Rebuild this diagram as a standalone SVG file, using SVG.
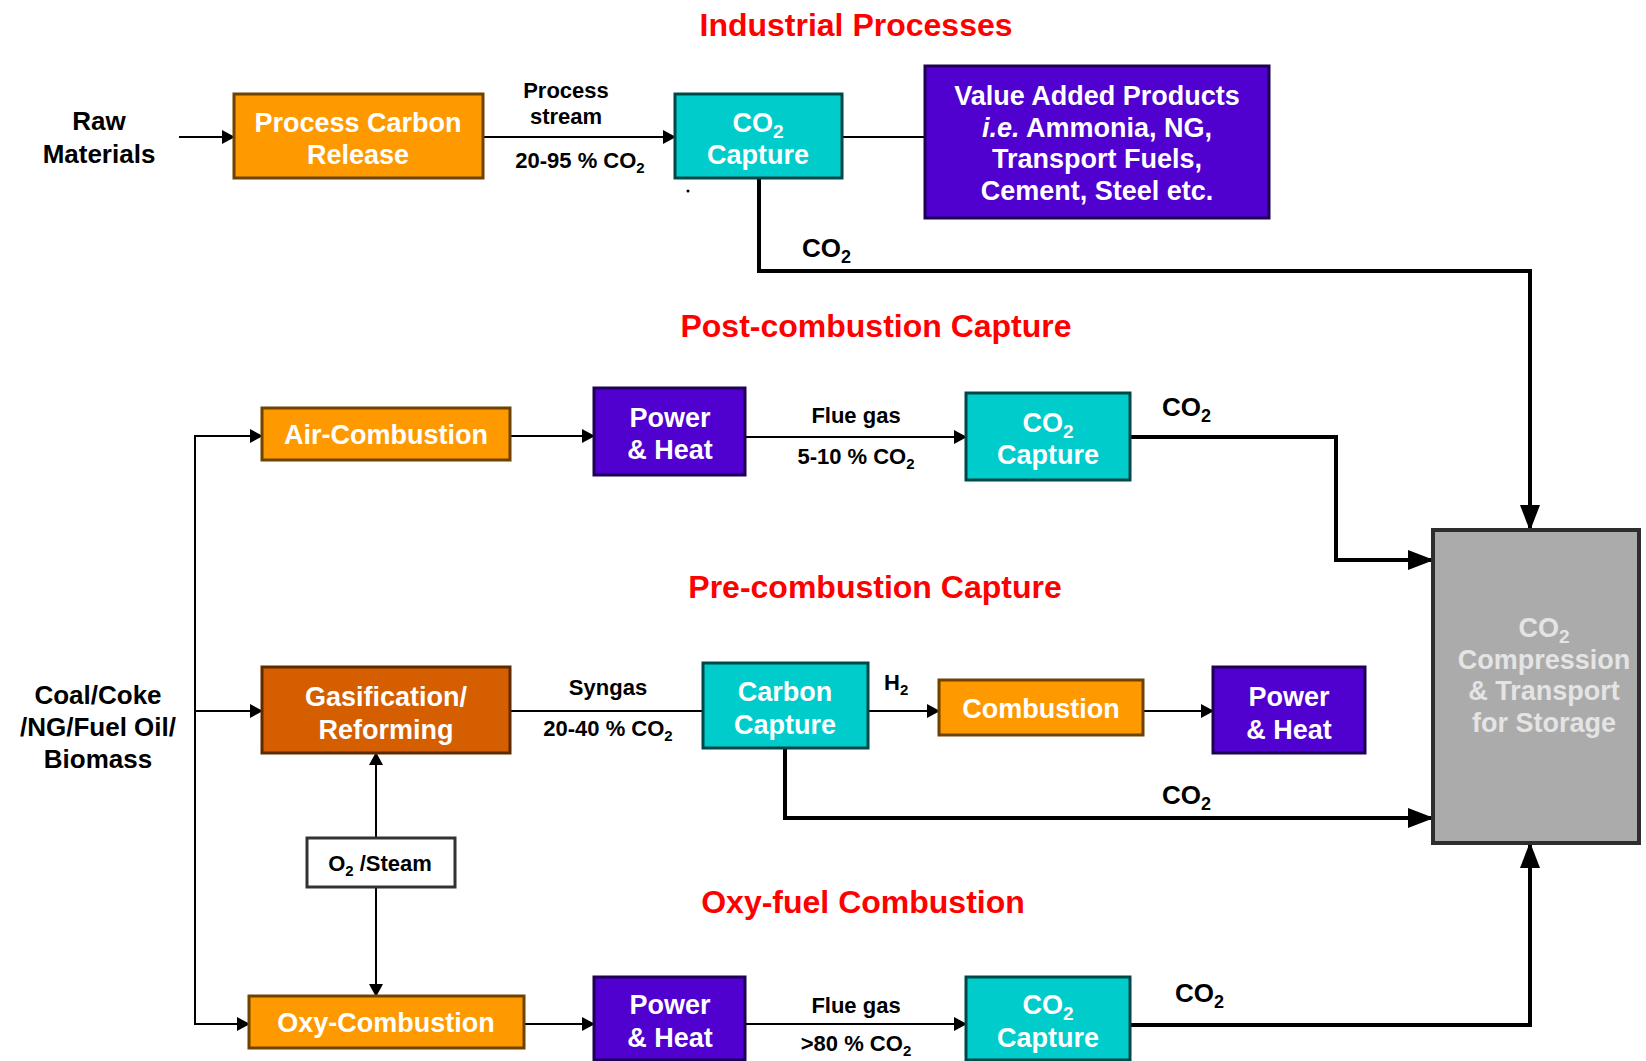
<svg xmlns="http://www.w3.org/2000/svg" width="1646" height="1061" viewBox="0 0 1646 1061">
<style>
text{font-family:"Liberation Sans",Arial,sans-serif;font-weight:bold;text-anchor:middle}
.title{font-size:32px;fill:#FF0000}
.bt{font-size:27px;fill:#FFFFFF}
.gt{font-size:27px;fill:#E4E4E4}
.lbl{font-size:26px;fill:#000}
.sm{font-size:22px;fill:#000}
.co2{font-size:26px;fill:#000;text-anchor:start}
.orange{fill:#FF9900;stroke:#6E4300;stroke-width:3}
.dorange{fill:#D55E00;stroke:#5E2A00;stroke-width:3}
.cyan{fill:#00CCCC;stroke:#004848;stroke-width:3}
.purple{fill:#5000CF;stroke:#1E0055;stroke-width:3}
.gray{fill:#ABABAB;stroke:#2E2E2E;stroke-width:4}
.white{fill:#FFFFFF;stroke:#333;stroke-width:3}
.thin{fill:none;stroke:#000;stroke-width:2}
.thick{fill:none;stroke:#000;stroke-width:4}
</style>
<defs>
<marker id="a" markerUnits="userSpaceOnUse" markerWidth="13" markerHeight="14" refX="12" refY="7" orient="auto"><path d="M0,0 L13,7 L0,14 z" fill="#000"/></marker>
<marker id="A" markerUnits="userSpaceOnUse" markerWidth="26" markerHeight="20" refX="25" refY="10" orient="auto"><path d="M0,0 L26,10 L0,20 z" fill="#000"/></marker>
</defs>
<rect width="1646" height="1061" fill="#FFFFFF"/>

<g id="titles">
<text class="title" x="856" y="36">Industrial Processes</text>
<text class="title" x="876" y="337">Post-combustion Capture</text>
<text class="title" x="875" y="598">Pre-combustion Capture</text>
<text class="title" x="863" y="913">Oxy-fuel Combustion</text>
</g>

<g id="connectors">
<path class="thin" d="M179,137 H234" marker-end="url(#a)"/>
<path class="thin" d="M483,137 H675" marker-end="url(#a)"/>
<path class="thin" d="M842,137 H925"/>
<path class="thin" d="M262,436 H195 V1024 H249" marker-end="url(#a)"/>
<path class="thin" d="M195,436 H262" marker-end="url(#a)"/>
<path class="thin" d="M195,711 H262" marker-end="url(#a)"/>
<path class="thin" d="M510,436 H594" marker-end="url(#a)"/>
<path class="thin" d="M745,437 H966" marker-end="url(#a)"/>
<path class="thin" d="M510,711 H703"/>
<path class="thin" d="M868,711 H939" marker-end="url(#a)"/>
<path class="thin" d="M1143,711 H1213" marker-end="url(#a)"/>
<path class="thin" d="M376,838 V753" marker-end="url(#a)"/>
<path class="thin" d="M376,887 V996" marker-end="url(#a)"/>
<path class="thin" d="M524,1024 H594" marker-end="url(#a)"/>
<path class="thin" d="M745,1024 H966" marker-end="url(#a)"/>
<path class="thick" d="M759,178 V271 H1530 V530" marker-end="url(#A)"/>
<path class="thick" d="M1130,437 H1336 V560 H1433" marker-end="url(#A)"/>
<path class="thick" d="M785,748 V818 H1433" marker-end="url(#A)"/>
<path class="thick" d="M1130,1025 H1530 V843" marker-end="url(#A)"/>
</g>

<g id="labels">
<text class="lbl" x="99" y="130">Raw</text>
<text class="lbl" x="99" y="163">Materials</text>
<text class="sm" x="566" y="98">Process</text>
<text class="sm" x="566" y="124">stream</text>
<text class="sm" x="580" y="168">20-95 % CO<tspan font-size="15" dy="5">2</tspan></text>
<circle cx="688" cy="191" r="1.5" fill="#000"/>
<text class="co2" x="802" y="257">CO<tspan font-size="18" dy="6">2</tspan></text>
<text class="sm" x="856" y="423">Flue gas</text>
<text class="sm" x="856" y="464">5-10 % CO<tspan font-size="15" dy="5">2</tspan></text>
<text class="co2" x="1162" y="416">CO<tspan font-size="18" dy="6">2</tspan></text>
<text class="lbl" x="98" y="704">Coal/Coke</text>
<text class="lbl" x="98" y="736">/NG/Fuel Oil/</text>
<text class="lbl" x="98" y="768">Biomass</text>
<text class="sm" x="608" y="695">Syngas</text>
<text class="sm" x="608" y="736">20-40 % CO<tspan font-size="15" dy="5">2</tspan></text>
<text class="sm" x="884" y="690" style="text-anchor:start">H<tspan font-size="15" dy="5">2</tspan></text>
<text class="co2" x="1162" y="804">CO<tspan font-size="18" dy="6">2</tspan></text>
<text class="sm" x="856" y="1013">Flue gas</text>
<text class="sm" x="856" y="1051">&gt;80 % CO<tspan font-size="15" dy="5">2</tspan></text>
<text class="co2" x="1175" y="1002">CO<tspan font-size="18" dy="6">2</tspan></text>
</g>

<g id="process-carbon-release">
<rect class="orange" x="234" y="94" width="249" height="84"/>
<text class="bt" x="358" y="132">Process Carbon</text>
<text class="bt" x="358" y="164">Release</text>
</g>
<g id="co2-capture-1">
<rect class="cyan" x="675" y="94" width="167" height="84"/>
<text class="bt" x="758" y="132">CO<tspan font-size="19" dy="6">2</tspan></text>
<text class="bt" x="758" y="164">Capture</text>
</g>
<g id="value-added-products">
<rect class="purple" x="925" y="66" width="344" height="152"/>
<text class="bt" x="1097" y="105">Value Added Products</text>
<text class="bt" x="1097" y="137"><tspan font-style="italic">i.e.</tspan> Ammonia, NG,</text>
<text class="bt" x="1097" y="168">Transport Fuels,</text>
<text class="bt" x="1097" y="200">Cement, Steel etc.</text>
</g>
<g id="air-combustion">
<rect class="orange" x="262" y="408" width="248" height="52"/>
<text class="bt" x="386" y="444">Air-Combustion</text>
</g>
<g id="power-heat-1">
<rect class="purple" x="594" y="388" width="151" height="87"/>
<text class="bt" x="670" y="427">Power</text>
<text class="bt" x="670" y="459">&amp; Heat</text>
</g>
<g id="co2-capture-2">
<rect class="cyan" x="966" y="393" width="164" height="87"/>
<text class="bt" x="1048" y="432">CO<tspan font-size="19" dy="6">2</tspan></text>
<text class="bt" x="1048" y="464">Capture</text>
</g>
<g id="gasification">
<rect class="dorange" x="262" y="667" width="248" height="86"/>
<text class="bt" x="386" y="706">Gasification/</text>
<text class="bt" x="386" y="739">Reforming</text>
</g>
<g id="carbon-capture">
<rect class="cyan" x="703" y="663" width="165" height="85"/>
<text class="bt" x="785" y="701">Carbon</text>
<text class="bt" x="785" y="734">Capture</text>
</g>
<g id="combustion">
<rect class="orange" x="939" y="680" width="204" height="55"/>
<text class="bt" x="1041" y="718">Combustion</text>
</g>
<g id="power-heat-2">
<rect class="purple" x="1213" y="667" width="152" height="86"/>
<text class="bt" x="1289" y="706">Power</text>
<text class="bt" x="1289" y="739">&amp; Heat</text>
</g>
<g id="o2-steam">
<rect class="white" x="307" y="838" width="148" height="49"/>
<text class="sm" x="380" y="871">O<tspan font-size="15" dy="5">2</tspan><tspan dy="-5"> /Steam</tspan></text>
</g>
<g id="oxy-combustion">
<rect class="orange" x="249" y="996" width="275" height="52"/>
<text class="bt" x="386" y="1032">Oxy-Combustion</text>
</g>
<g id="power-heat-3">
<rect class="purple" x="594" y="977" width="151" height="83"/>
<text class="bt" x="670" y="1014">Power</text>
<text class="bt" x="670" y="1047">&amp; Heat</text>
</g>
<g id="co2-capture-3">
<rect class="cyan" x="966" y="977" width="164" height="83"/>
<text class="bt" x="1048" y="1014">CO<tspan font-size="19" dy="6">2</tspan></text>
<text class="bt" x="1048" y="1047">Capture</text>
</g>
<g id="co2-compression">
<rect class="gray" x="1433" y="530" width="206" height="313"/>
<text class="gt" x="1544" y="637">CO<tspan font-size="19" dy="6">2</tspan></text>
<text class="gt" x="1544" y="669">Compression</text>
<text class="gt" x="1544" y="700">&amp; Transport</text>
<text class="gt" x="1544" y="732">for Storage</text>
</g>
</svg>
